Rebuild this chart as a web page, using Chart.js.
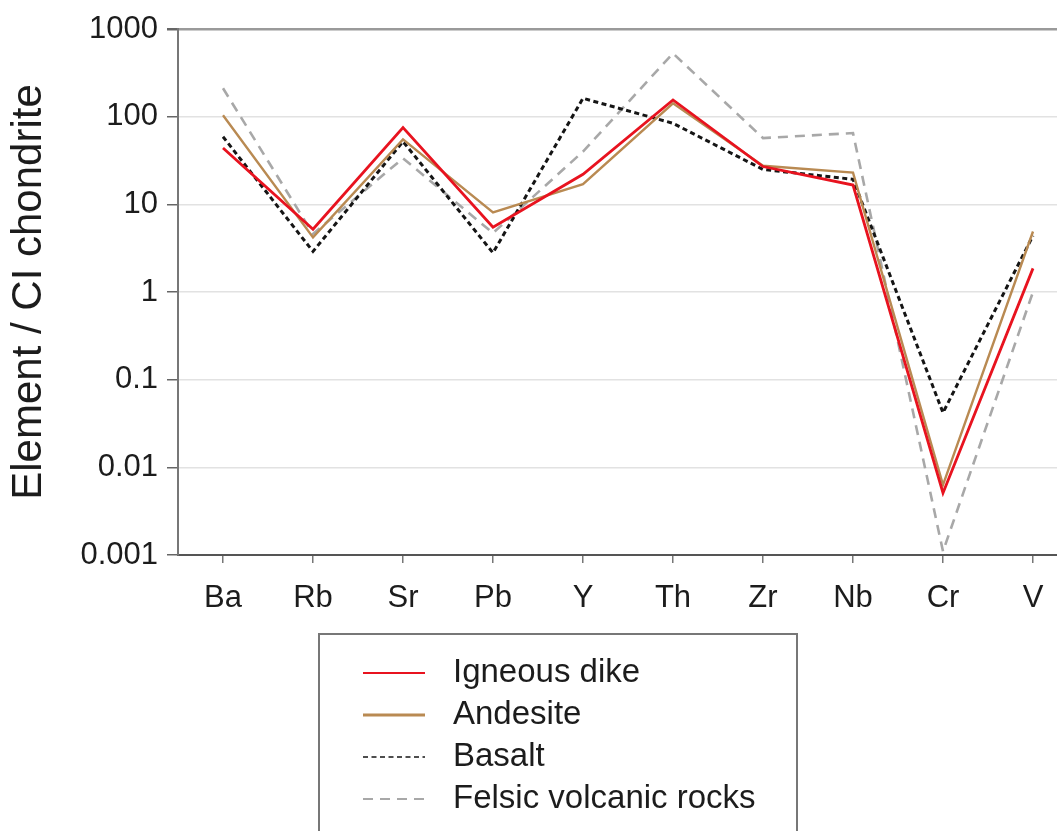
<!DOCTYPE html>
<html>
<head>
<meta charset="utf-8">
<script src="https://cdn.jsdelivr.net/npm/chart.js@4"></script>
<style>
  html, body { margin: 0; padding: 0; background: #fff; overflow: hidden; }
  #wrap { width: 1090px; height: 860px; }
</style>
</head>
<body>
<div id="wrap"><canvas id="spider" width="1090" height="860"></canvas></div>
<script>
// elements on the x axis
const elements = ['Ba', 'Rb', 'Sr', 'Pb', 'Y', 'Th', 'Zr', 'Nb', 'Cr', 'V'];

// normalised values (element / CI chondrite)
const igneousDike = [44, 5.2, 75, 5.5, 22, 155, 27, 16.6, 0.0051, 1.86];
const andesite    = [104, 4.2, 55, 8.1, 17, 142, 27.5, 23, 0.0063, 4.9];
const basalt      = [59, 2.9, 52, 2.8, 162, 84, 25, 19.3, 0.042, 4.4];
const felsic      = [211, 4.6, 33.5, 4.7, 40, 528, 57, 65, 0.0011, 1.0];

// decade ticks on the log axis
const yTickValues = [0.001, 0.01, 0.1, 1, 10, 100, 1000];
const yTickLabels = ['0.001', '0.01', '0.1', '1', '10', '100', '1000'];

const FONT = "'Liberation Sans', Arial, sans-serif";
const TEXT = '#1c1c1c';

// legend drawn as a framed box under the plot
const legendBox = {
  id: 'legendBox',
  afterDraw(chart) {
    const { ctx, chartArea } = chart;
    const left = chartArea.left + 141;
    const top = chartArea.bottom + 79;
    ctx.save();
    ctx.strokeStyle = '#777';
    ctx.lineWidth = 2;
    ctx.strokeRect(left, top, 478, 300);
    ctx.font = '33px ' + FONT;
    ctx.textBaseline = 'middle';
    ctx.fillStyle = TEXT;
    chart.data.datasets.forEach((ds, i) => {
      const y = top + 39 + i * 42;
      ctx.beginPath();
      ctx.strokeStyle = ds.borderColor;
      ctx.lineWidth = ds.legendWidth;
      ctx.setLineDash(ds.borderDash || []);
      ctx.moveTo(left + 44, y);
      ctx.lineTo(left + 106, y);
      ctx.stroke();
      ctx.setLineDash([]);
      ctx.fillText(ds.label, left + 134, y);
    });
    ctx.restore();
  }
};

new Chart(document.getElementById('spider'), {
  type: 'line',
  data: {
    labels: elements,
    datasets: [
      { label: 'Igneous dike', data: igneousDike, borderColor: '#e8131f', borderWidth: 2.8, legendWidth: 2 },
      { label: 'Andesite', data: andesite, borderColor: '#b98a52', borderWidth: 2.4, legendWidth: 3 },
      { label: 'Basalt', data: basalt, borderColor: '#151515', borderWidth: 3, borderDash: [5, 3.5], legendWidth: 1.5 },
      { label: 'Felsic volcanic rocks', data: felsic, borderColor: '#a8a8a8', borderWidth: 2.6, borderDash: [10, 7], legendWidth: 2 }
    ]
  },
  options: {
    responsive: false,
    animation: false,
    layout: { padding: { top: 29, left: 0, right: 12, bottom: 245 } },
    elements: {
      line: { tension: 0, fill: false },
      point: { radius: 0, hoverRadius: 0 }
    },
    plugins: {
      legend: { display: false },
      tooltip: { enabled: false }
    },
    scales: {
      x: {
        type: 'category',
        offset: true,
        afterFit(scale) { scale.height = 60; },
        grid: { drawOnChartArea: false, drawTicks: true, tickLength: 8, color: '#777', lineWidth: 1.5 },
        border: { color: '#555', width: 2 },
        ticks: { color: TEXT, font: { family: FONT, size: 31 }, padding: 17, maxRotation: 0, autoSkip: false }
      },
      y: {
        type: 'logarithmic',
        min: 0.001,
        max: 1000,
        afterFit(scale) { scale.width = 178; },
        afterBuildTicks(scale) {
          scale.ticks = yTickValues.map(v => ({ value: v }));
        },
        grid: {
          color: ctx => (ctx.tick && ctx.tick.value === 1000 ? '#9a9a9a' : '#e2e2e2'),
          lineWidth: ctx => (ctx.tick && ctx.tick.value === 1000 ? 2.5 : 1.5),
          tickColor: '#666',
          tickLength: 11
        },
        border: { color: '#777', width: 2 },
        ticks: {
          color: TEXT,
          font: { family: FONT, size: 31 },
          padding: 9,
          callback: (v) => {
            const i = yTickValues.indexOf(v);
            return i >= 0 ? yTickLabels[i] : '';
          }
        },
        title: {
          display: true,
          text: 'Element / CI chondrite',
          color: TEXT,
          font: { family: FONT, size: 42 },
          padding: { top: 4, bottom: 0 }
        }
      }
    }
  },
  plugins: [legendBox]
});
</script>
</body>
</html>
